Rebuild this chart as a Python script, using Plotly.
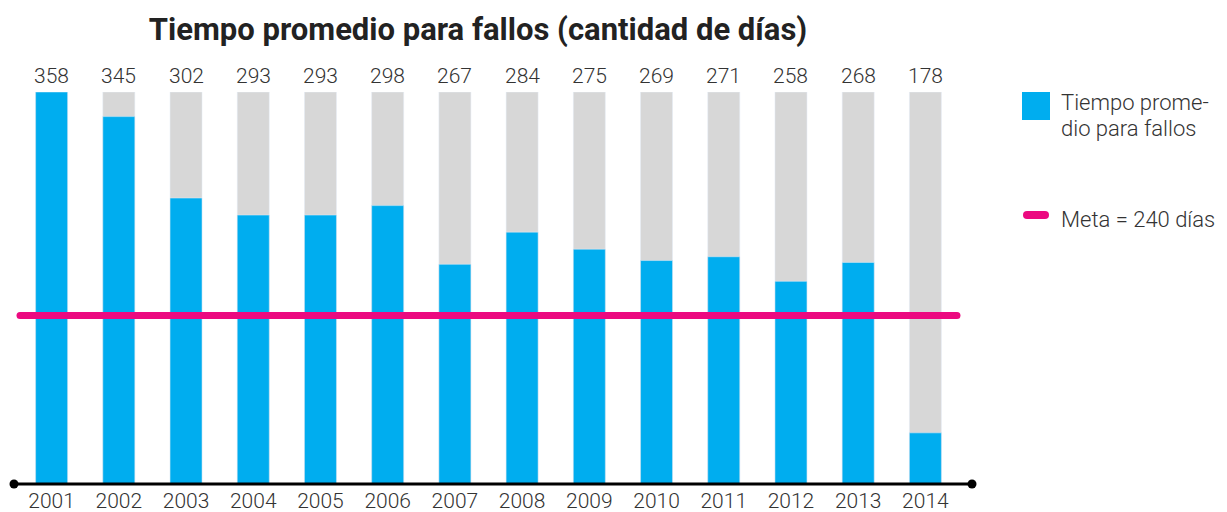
import plotly.graph_objects as go

years = ["2001", "2002", "2003", "2004", "2005", "2006", "2007",
         "2008", "2009", "2010", "2011", "2012", "2013", "2014"]
values = [358, 345, 302, 293, 293, 298, 267, 284, 275, 269, 271, 258, 268, 178]
max_value = 358
goal = 240
y_min = 151

BLUE = "#00ADEF"
GRAY = "#D7D7D7"
PINK = "#EC0A80"
TEXT = "#333333"
FONT = "Roboto"

# the page body adds an 8px offset; work in page pixels and convert
OFF = 8
W, H = 1227 - OFF, 512 - OFF
# plot area in page pixels
PX0, PX1, PY0, PY1 = 18, 959, 92, 484
L, R, T, B = PX0 - OFF, 1227 - PX1, PY0 - OFF, 512 - PY1
PW = PX1 - PX0
PH = PY1 - PY0

def px_x(p):
    return (p - PX0) / PW

def px_y(p):
    return (PY1 - p) / PH

xs = list(range(len(years)))

fig = go.Figure()
fig.add_trace(go.Bar(x=xs, y=[max_value] * len(years), marker_color=GRAY,
                     width=0.476, showlegend=False, hoverinfo="skip"))
fig.add_trace(go.Bar(x=xs, y=values, marker_color=BLUE, width=0.476,
                     showlegend=False, name="Tiempo promedio para fallos"))

# goal line with rounded ends
lx = [-0.5 + 0.03, len(years) - 0.5 - 0.03]
fig.add_trace(go.Scatter(x=lx, y=[goal, goal], mode="lines+markers",
                         line=dict(color=PINK, width=7),
                         marker=dict(color=PINK, size=7, line=dict(width=0)),
                         cliponaxis=False, showlegend=False, hoverinfo="skip"))

fig.update_layout(barmode="overlay")

# value labels
for x, v in zip(xs, values):
    fig.add_annotation(x=x, y=max_value, text=str(v), showarrow=False,
                       yanchor="bottom", yshift=2,
                       font=dict(family=FONT, size=21, color=TEXT, weight=300))

# baseline axis with dots
ax0, ax1 = px_x(14), px_x(972)
fig.add_shape(type="line", xref="paper", yref="paper", x0=ax0, x1=ax1,
              y0=0, y1=0, line=dict(color="black", width=3), layer="above")
for p in [ax0, ax1]:
    fig.add_shape(type="circle", xref="paper", yref="paper", xsizemode="pixel",
                  ysizemode="pixel", xanchor=p, yanchor=0, x0=-4.5, x1=4.5,
                  y0=-4.5, y1=4.5, fillcolor="black", line=dict(width=0),
                  layer="above")

# legend (manual)
LEG_FONT = dict(family=FONT, size=22, color=TEXT, weight=300)
fig.add_shape(type="rect", xref="paper", yref="paper", xsizemode="pixel",
              ysizemode="pixel", xanchor=px_x(1022), yanchor=px_y(92),
              x0=0, x1=28, y0=0, y1=-28, fillcolor=BLUE, line=dict(width=0))
fig.add_annotation(xref="paper", yref="paper", x=px_x(1059), y=px_y(103),
                   xanchor="left", yanchor="middle", showarrow=False,
                   text="Tiempo prome-", font=LEG_FONT)
fig.add_annotation(xref="paper", yref="paper", x=px_x(1059), y=px_y(128),
                   xanchor="left", yanchor="middle", showarrow=False,
                   text="dio para fallos", font=LEG_FONT)
fig.add_shape(type="line", xref="paper", yref="paper",
              x0=px_x(1027), x1=px_x(1045), y0=px_y(215), y1=px_y(215),
              line=dict(color=PINK, width=8))
for p in [px_x(1027), px_x(1045)]:
    fig.add_shape(type="circle", xref="paper", yref="paper", xsizemode="pixel",
                  ysizemode="pixel", xanchor=p, yanchor=px_y(215),
                  x0=-4, x1=4, y0=-4, y1=4, fillcolor=PINK, line=dict(width=0))
fig.add_annotation(xref="paper", yref="paper", x=px_x(1059), y=px_y(219),
                   xanchor="left", yanchor="middle",
                   showarrow=False, text="Meta = 240 días", font=LEG_FONT)

fig.update_layout(
    width=W, height=H,
    margin=dict(l=L, r=R, t=T, b=B, autoexpand=False),
    paper_bgcolor="white", plot_bgcolor="white",
    title=dict(text="<b>Tiempo promedio para fallos (cantidad de días)</b>",
               x=px_x(478), xref="paper", xanchor="center",
               y=1 - (29 - OFF) / H, yanchor="middle",
               font=dict(family=FONT, size=31, color="#222222")),
    xaxis=dict(range=[-0.5, len(years) - 0.5], tickvals=xs, ticktext=years,
               showgrid=False, zeroline=False, showline=False, ticks="",
               automargin=False,
               tickfont=dict(family=FONT, size=21, color=TEXT, weight=300),
               ticklabelstandoff=2),
    yaxis=dict(range=[y_min, max_value], visible=False, showgrid=False,
               automargin=False),
    font=dict(family=FONT),
)

fig.write_html("out.html")
